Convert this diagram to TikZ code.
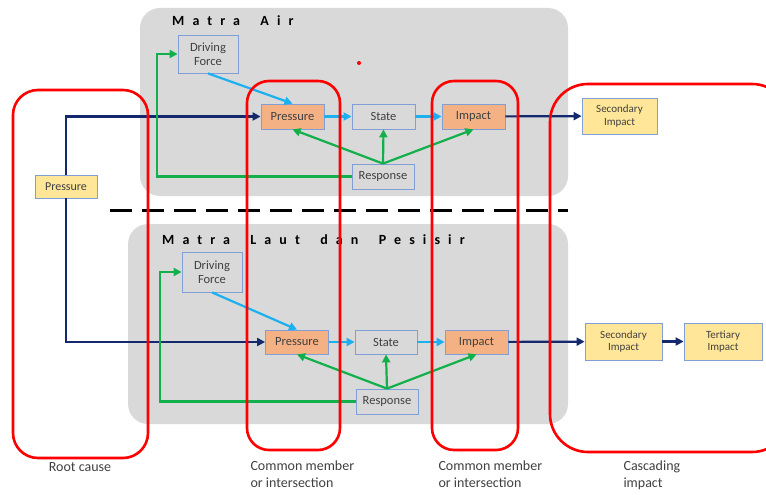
\documentclass[tikz,border=0pt]{standalone}
\usepackage{fontspec}
\setmainfont{Carlito}
\usetikzlibrary{arrows.meta}

\definecolor{panelgray}{HTML}{D9D9D9}
\definecolor{boxblue}{HTML}{7F9FD6}
\definecolor{hotorange}{HTML}{F4B183}
\definecolor{paleyellow}{HTML}{FFE699}
\definecolor{navyline}{HTML}{14286E}
\definecolor{greenline}{HTML}{12B04A}
\definecolor{skyline}{HTML}{1CB0F0}
\definecolor{textgray}{HTML}{404040}

\tikzset{
  box/.style={draw=boxblue, line width=0.8pt, inner sep=1pt, align=center,
    text=textgray, font=\fontsize{12.5}{14}\selectfont},
  hot/.style={box, fill=hotorange, minimum width=63pt, minimum height=25pt},
  plain/.style={box, minimum width=63pt, minimum height=25pt},
  yellowbox/.style={box, fill=paleyellow, font=\fontsize{11}{12.5}\selectfont},
  navy/.style={navyline, line width=2.2pt, -{Triangle[length=8pt,width=8pt]}},
  green/.style={greenline, line width=2.2pt, -{Triangle[length=8pt,width=8pt]}},
  sky/.style={skyline, line width=2.2pt, -{Triangle[length=8pt,width=8pt]}},
  ring/.style={draw=red, line width=2.6pt},
  panel/.style={fill=panelgray, rounded corners=20pt},
  title/.style={anchor=base west, inner sep=0pt, font=\fontsize{14}{16}\selectfont\bfseries\addfontfeature{LetterSpace=58}},
  note/.style={anchor=north west, align=left, text=textgray, font=\fontsize{14}{17}\selectfont}
}

\begin{document}
\begin{tikzpicture}[x=1pt, y=-1pt]
    \useasboundingbox (0,0) rectangle (766,495);

    % the two panels
    \fill[panel] (140,8) rectangle (568,196);
    \fill[panel] (128,224) rectangle (568,424);
    \node[title] (titleair) at (172,26) {Matra\hspace{9pt} Air};
    \node[title] (titlelaut) at (162,244) {Matra\hspace{9pt} Laut\hspace{9pt} dan\hspace{9pt} Pesisir};
    \fill[red] (359,63) circle (2);

    \draw[black, line width=3pt, dash pattern=on 22pt off 10pt] (110,210) -- (568,210);

    % upper panel
    \node[box, minimum width=60pt, minimum height=38pt] (tdrive) at (208,54) {Driving\\Force};
    \node[hot] (tpress) at (292.5,116.5) {Pressure};
    \node[plain] (tstate) at (383.5,116.5) {State};
    \node[hot] (timpact) at (473.5,116.5) {Impact};
    \node[plain, minimum width=62pt] (tresp) at (383,176.5) {Response};
    \node[yellowbox, minimum width=75pt, minimum height=36pt] (tsec) at (619.5,116) {Secondary\\Impact};

    % lower panel
    \node[box, minimum width=60pt, minimum height=40pt] (bdrive) at (212,272) {Driving\\Force};
    \node[hot, minimum height=24pt] (bpress) at (297,342) {Pressure};
    \node[plain, minimum width=62pt, minimum height=24pt] (bstate) at (386,342) {State};
    \node[hot, minimum height=24pt] (bimpact) at (476.5,342) {Impact};
    \node[plain, minimum width=62pt] (bresp) at (387,401.5) {Response};
    \node[yellowbox, minimum width=77pt, minimum height=37pt] (bsec) at (623.5,341.5) {Secondary\\Impact};
    \node[yellowbox, minimum width=78pt, minimum height=37pt] (bter) at (723,341.5) {Tertiary\\Impact};

    \node[yellowbox, font=\fontsize{12}{14}\selectfont, minimum width=62pt, minimum height=23pt] (root) at (66,186.5) {Pressure};

    % root cause feeds both panels
    \draw[navy] (root.north) |- (tpress.west);
    \draw[navy] (root.south) |- (bpress.west);
    \draw[navy] (timpact) -- (tsec);
    \draw[navy] (bimpact) -- (bsec);
    \draw[navy] (bsec) -- (bter);

    \draw[sky] (tdrive.south) -- (tpress.north);
    \draw[sky] (tpress) -- (tstate);
    \draw[sky] (tstate) -- (timpact);
    \draw[sky] (bdrive.south) -- (bpress.north);
    \draw[sky] (bpress) -- (bstate);
    \draw[sky] (bstate) -- (bimpact);

    \draw[green] (tresp.north) -- (tpress.south);
    \draw[green] (tresp.north) -- (tstate.south);
    \draw[green] (tresp.north) -- (timpact.south);
    \draw[green] (tresp.west) -- (157,176.5) |- (tdrive.west);
    \draw[green] (bresp.north) -- (bpress.south);
    \draw[green] (bresp.north) -- (bstate.south);
    \draw[green] (bresp.north) -- (bimpact.south);
    \draw[green] (bresp.west) -- (160,401.5) |- (bdrive.west);

    % groupings
    \draw[ring, rounded corners=25pt] (13,90) rectangle (148,458);
    \draw[ring, rounded corners=22pt] (247,81) rectangle (340,450);
    \draw[ring, rounded corners=22pt] (432,81) rectangle (518,450);
    \draw[ring, rounded corners=38pt] (550,84) rectangle (790,452);

    \node[note, anchor=north] (lroot) at (80,459) {Root cause};
    \node[note] (lcommon1) at (247,457) {Common member\\or intersection};
    \node[note] (lcommon2) at (435,457) {Common member\\or intersection};
    \node[note] (lcascade) at (620,457) {Cascading\\impact};
\end{tikzpicture}
\end{document}
